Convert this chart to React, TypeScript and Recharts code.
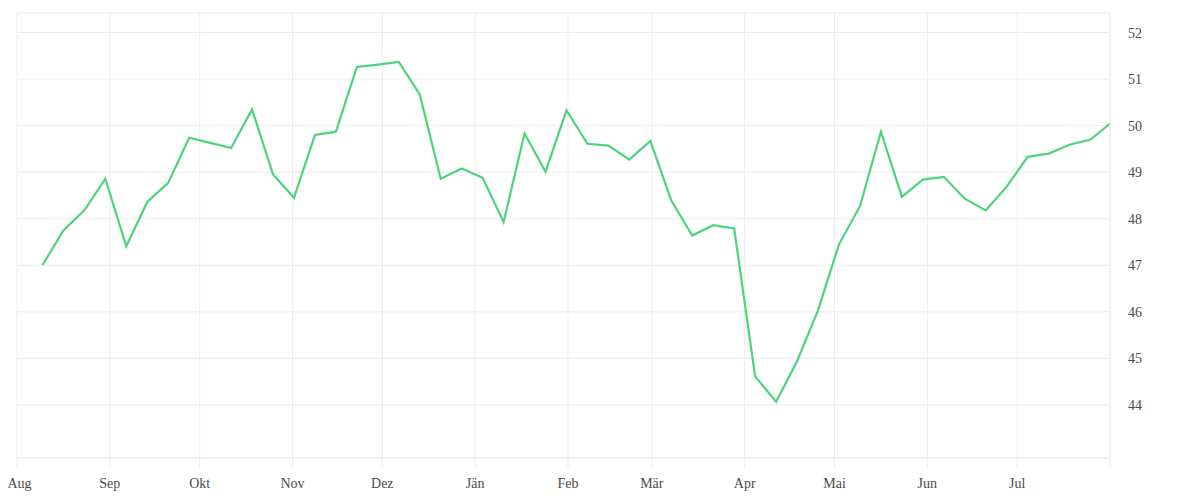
import { LineChart, Line, XAxis, YAxis, CartesianGrid } from "recharts";

// weekly readings, Aug 2022 - Aug 2023
const dates = [
  "2022-08-09", "2022-08-16", "2022-08-23", "2022-08-30",
  "2022-09-06", "2022-09-13", "2022-09-20", "2022-09-27",
  "2022-10-04", "2022-10-11", "2022-10-18", "2022-10-25",
  "2022-11-01", "2022-11-08", "2022-11-15", "2022-11-22", "2022-11-29",
  "2022-12-06", "2022-12-13", "2022-12-20", "2022-12-27",
  "2023-01-03", "2023-01-10", "2023-01-17", "2023-01-24", "2023-01-31",
  "2023-02-07", "2023-02-14", "2023-02-21", "2023-02-28",
  "2023-03-07", "2023-03-14", "2023-03-21", "2023-03-28",
  "2023-04-04", "2023-04-11", "2023-04-18", "2023-04-25",
  "2023-05-02", "2023-05-09", "2023-05-16", "2023-05-23", "2023-05-30",
  "2023-06-06", "2023-06-13", "2023-06-20", "2023-06-27",
  "2023-07-04", "2023-07-11", "2023-07-18", "2023-07-25",
  "2023-08-01",
];

const values = [
  47.0, 47.75, 48.18, 48.86,
  47.41, 48.36, 48.77, 49.74,
  49.63, 49.52, 50.35, 48.95,
  48.45, 49.8, 49.87, 51.26, 51.31,
  51.37, 50.67, 48.86, 49.08,
  48.88, 47.93, 49.83, 49.01, 50.33,
  49.61, 49.57, 49.27, 49.67,
  48.39, 47.64, 47.86, 47.79,
  44.61, 44.07, 44.94, 46.03,
  47.45, 48.27, 49.87, 48.47, 48.84,
  48.9, 48.43, 48.18, 48.69,
  49.33, 49.4, 49.59, 49.7,
  50.07,
];

const monthStarts = [
  "2022-08-01", "2022-09-01", "2022-10-01", "2022-11-01", "2022-12-01",
  "2023-01-01", "2023-02-01", "2023-03-01", "2023-04-01", "2023-05-01",
  "2023-06-01", "2023-07-01", "2023-08-01",
];
const monthLabels = ["Aug", "Sep", "Okt", "Nov", "Dez", "Jän", "Feb", "Mär", "Apr", "Mai", "Jun", "Jul", ""];

const yTicks = [44, 45, 46, 47, 48, 49, 50, 51, 52];

const toTime = (d: string, hour = "00") => Date.parse(`${d}T${hour}:00:00Z`);

// readings are stamped at midday
const data = dates.map((d, i) => ({ t: toTime(d, "12"), v: values[i] }));
const xTicks = monthStarts.map((d) => toTime(d));

const GRID = "#ececec";
const TEXT = "#4a4a4a";
const FONT = "'Liberation Serif', serif";

// month label under each tick; the first one is nudged so it stays on the page
const MonthTick = (props: any) => {
  const { x, y, payload, index } = props;
  const label = monthLabels[xTicks.indexOf(payload.value)] ?? "";
  return (
    <text
      x={x + (index === 0 ? 2.5 : 0)}
      y={y}
      dy="0.71em"
      textAnchor="middle"
      fill={TEXT}
      fontSize={14}
      fontFamily={FONT}
    >
      {label}
    </text>
  );
};

export default function App() {
  return (
    <div style={{ width: 1184, height: 484, background: "#fff" }}>
      <LineChart width={1184} height={484} data={data} margin={{ top: 5, right: 0, bottom: 0, left: 9 }}>
        <CartesianGrid stroke={GRID} strokeWidth={1} />
        <XAxis
          dataKey="t"
          type="number"
          scale="time"
          domain={[xTicks[0], xTicks[xTicks.length - 1]]}
          allowDataOverflow
          ticks={xTicks}
          height={34}
          tickSize={10}
          tickMargin={10}
          axisLine={{ stroke: GRID }}
          tickLine={{ stroke: GRID }}
          tick={<MonthTick />}
          interval={0}
        />
        <YAxis
          orientation="right"
          type="number"
          domain={[42.86, 52.42]}
          ticks={yTicks}
          width={82}
          tickSize={0}
          tickMargin={18}
          axisLine={{ stroke: GRID }}
          tickLine={false}
          tick={{ fill: TEXT, fontSize: 14, fontFamily: FONT, textAnchor: "start" }}
          allowDataOverflow
        />
        <Line
          type="linear"
          dataKey="v"
          stroke="#4cd47c"
          strokeWidth={2.2}
          dot={false}
          isAnimationActive={false}
        />
      </LineChart>
    </div>
  );
}
